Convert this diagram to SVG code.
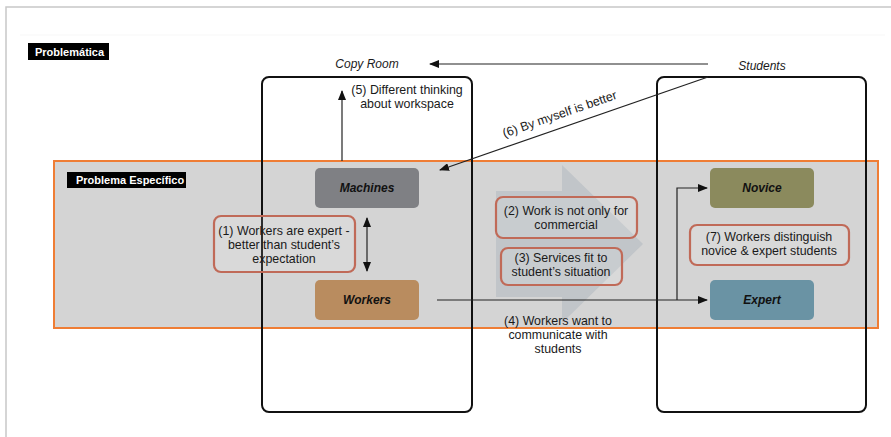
<svg xmlns="http://www.w3.org/2000/svg" width="891" height="437" viewBox="0 0 891 437">
<defs>
<style>
.t{font-family:"Liberation Sans",Arial,sans-serif;font-size:12.4px;fill:#1a1a1a;text-anchor:middle}
.it{font-family:"Liberation Sans",Arial,sans-serif;font-size:12px;font-style:italic;fill:#1a1a1a;text-anchor:middle}
.nl{font-family:"Liberation Sans",Arial,sans-serif;font-size:12px;font-weight:bold;font-style:italic;fill:#111;text-anchor:middle}
.lab{font-family:"Liberation Sans",Arial,sans-serif;font-size:11px;font-weight:bold;fill:#fff}
.box{fill:none;stroke:#111;stroke-width:2}
.note{fill:#ffffff;fill-opacity:0.12;stroke:#c06a58;stroke-width:2.2}
.ln{fill:none;stroke:#222;stroke-width:1.2}
</style>
<marker id="ah" markerWidth="10" markerHeight="8" refX="9" refY="4" orient="auto" markerUnits="userSpaceOnUse">
<path d="M0,0 L10,4 L0,8 Z" fill="#111"/>
</marker>
</defs>
<rect width="891" height="437" fill="#fff"/>
<path d="M6,437 V7 H891" fill="none" stroke="#c8c8c8" stroke-width="1.5"/>
<line x1="20" y1="35" x2="885" y2="35" stroke="#f7f7f7" stroke-width="1"/>

<g id="problematica">
<rect x="28" y="43" width="81" height="17" fill="#000"/>
<text class="lab" x="35" y="56">Problemática</text>
</g>

<g id="problema-especifico">
<rect x="54" y="161" width="824" height="167" fill="#d4d4d4" stroke="#ef7d35" stroke-width="2"/>
<path d="M496,191 H562 V165 L643,244 L562,323 V297 H496 Z" fill="#bcc0c5" opacity="0.8"/>
<rect x="67" y="172" width="119" height="16" fill="#000"/>
<text class="lab" x="76" y="184">Problema Específico</text>
</g>

<g id="copy-room">
<rect class="box" x="262" y="77" width="210" height="335" rx="7"/>
<text class="it" x="367" y="68">Copy Room</text>
</g>

<g id="students">
<rect class="box" x="657" y="77" width="209" height="335" rx="7"/>
<text class="it" x="762" y="70">Students</text>
</g>

<g id="machines">
<rect x="315" y="168" width="104" height="40" rx="5" fill="#7f8084"/>
<text class="nl" x="367" y="192">Machines</text>
</g>
<g id="workers">
<rect x="315" y="280" width="104" height="40" rx="5" fill="#b98c5f"/>
<text class="nl" x="367" y="304">Workers</text>
</g>
<g id="novice">
<rect x="710" y="168" width="104" height="40" rx="5" fill="#8b8a5d"/>
<text class="nl" x="762" y="192">Novice</text>
</g>
<g id="expert">
<rect x="710" y="280" width="104" height="40" rx="5" fill="#6a93a4"/>
<text class="nl" x="762" y="304">Expert</text>
</g>

<g id="note1">
<rect class="note" x="214" y="216" width="141" height="56" rx="7"/>
<text class="t" x="284" y="235">(1) Workers are expert -</text>
<text class="t" x="284" y="249">better than student’s</text>
<text class="t" x="284" y="263">expectation</text>
</g>
<g id="note2">
<rect class="note" x="496" y="197" width="141" height="41" rx="7"/>
<text class="t" x="566" y="215">(2) Work is not only for</text>
<text class="t" x="566" y="229">commercial</text>
</g>
<g id="note3">
<rect class="note" x="501" y="248" width="121" height="37" rx="7"/>
<text class="t" x="561" y="262">(3) Services fit to</text>
<text class="t" x="561" y="276">student’s situation</text>
</g>
<g id="note7">
<rect class="note" x="690" y="225" width="159" height="40" rx="7"/>
<text class="t" x="769" y="241">(7) Workers distinguish</text>
<text class="t" x="769" y="255">novice &amp; expert students</text>
</g>

<g id="connectors">
<line class="ln" x1="708" y1="64" x2="430" y2="64" marker-end="url(#ah)"/>
<line class="ln" x1="342" y1="161" x2="342" y2="91" marker-end="url(#ah)"/>
<line class="ln" x1="708" y1="77" x2="440" y2="170" marker-end="url(#ah)"/>
<line class="ln" x1="367" y1="228" x2="367" y2="218" marker-end="url(#ah)"/>
<line class="ln" x1="367" y1="228" x2="367" y2="271" marker-end="url(#ah)"/>
<line class="ln" x1="437" y1="300" x2="707" y2="300" marker-end="url(#ah)"/>
<polyline class="ln" points="677,300 677,188 707,188" marker-end="url(#ah)"/>
</g>

<g id="labels">
<text class="t" x="407" y="94">(5) Different thinking</text>
<text class="t" x="407" y="108">about workspace</text>
<text class="t" x="0" y="0" transform="translate(561,118) rotate(-19)">(6) By myself is better</text>
<text class="t" x="558" y="325">(4) Workers want to</text>
<text class="t" x="558" y="339">communicate with</text>
<text class="t" x="558" y="353">students</text>
</g>
</svg>
